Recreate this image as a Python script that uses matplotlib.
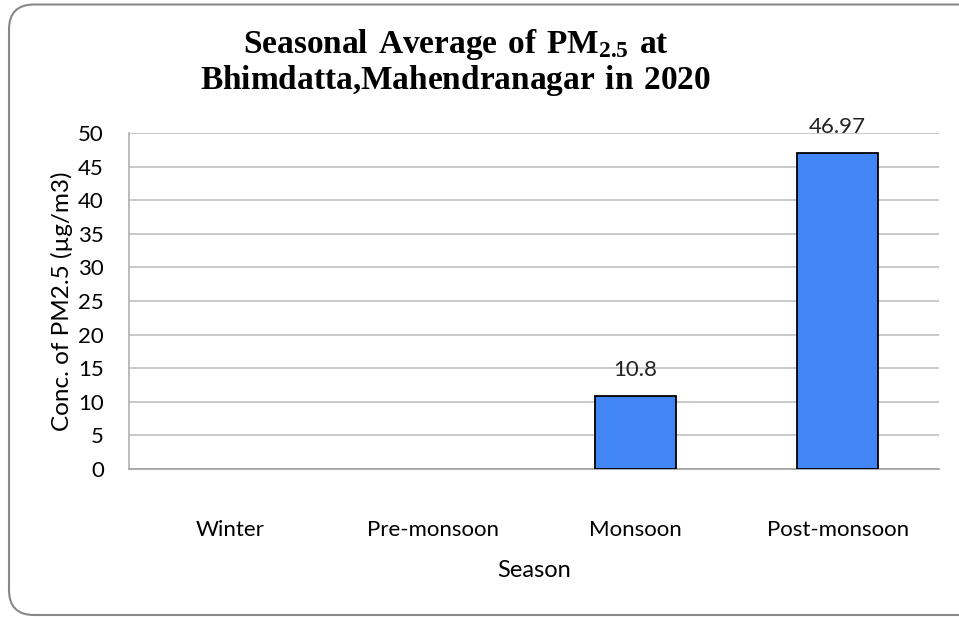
import numpy as np
import matplotlib
matplotlib.use("Agg")
import matplotlib.pyplot as plt
from matplotlib.patches import FancyBboxPatch

seasons = ["Winter", "Pre-monsoon", "Monsoon", "Post-monsoon"]
values = [np.nan, np.nan, 10.8, 46.97]
labels = ["", "", "10.8", "46.97"]
yticks = [0, 5, 10, 15, 20, 25, 30, 35, 40, 45, 50]

plt.rcParams['font.family'] = ['Lato', 'DejaVu Sans']
plt.rcParams['mathtext.fontset'] = 'custom'
plt.rcParams['mathtext.rm'] = 'Liberation Serif:bold'
plt.rcParams['mathtext.bf'] = 'Liberation Serif:bold'

W, H = 959, 617
fig = plt.figure(figsize=(W/100, H/100), dpi=100)

# rounded border (inches)
border = FancyBboxPatch((0.09, 0.02), 9.9, 6.105,
                        boxstyle="round,pad=0,rounding_size=0.25",
                        transform=fig.dpi_scale_trans, fill=False,
                        edgecolor="#888888", linewidth=1.5, clip_on=False)
fig.patches.append(border)

ax = fig.add_axes([129/W, (H-469)/H, (939-129)/W, (469-133)/H])
x = np.arange(len(seasons))
ax.bar(x, values, width=0.4, color="#4285F4", edgecolor="black", linewidth=1.3, zorder=3)
for xi, v, lab in zip(x, values, labels):
    if lab:
        ax.annotate(lab, (xi, v), xytext=(0, 12), textcoords="offset points",
                    ha="center", va="bottom", fontsize=16, color="#222222")

ax.set_xlim(-0.5, 3.5)
ax.set_ylim(0, 50)
ax.set_yticks(yticks)
ax.set_xticks(x)
ax.set_xticklabels(seasons, fontsize=16)
ax.tick_params(axis='y', labelsize=16, length=0, pad=18)
ax.tick_params(axis='x', length=0, pad=37)
ax.yaxis.grid(True, color="#c0c0c0", linewidth=1.2, zorder=0)
ax.set_axisbelow(True)
for s in ["top", "right"]:
    ax.spines[s].set_visible(False)
ax.spines["left"].set_color("#b0b0b0")
ax.spines["left"].set_linewidth(1.2)
ax.spines["bottom"].set_color("#a0a0a0")
ax.spines["bottom"].set_linewidth(1.2)
ax.set_xlabel("Season", fontsize=17, labelpad=14)
ax.set_ylabel("Conc. of PM2.5 (µg/m3)", fontsize=17.5, labelpad=4)

fig.text(456/W, (H-45)/H, r"$\mathbf{Seasonal\ Average\ of\ PM_{2.5}\ at}$",
         ha="center", va="center", fontsize=24)
fig.text(456/W, (H-80)/H, r"$\mathbf{Bhimdatta{,}Mahendranagar\ in\ 2020}$",
         ha="center", va="center", fontsize=24)

fig.savefig("out.png", dpi=100)
